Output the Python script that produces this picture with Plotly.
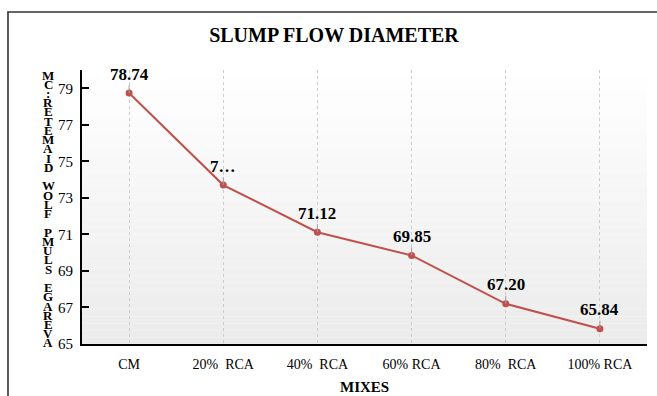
import plotly.graph_objects as go

# Slump flow results per mix
mixes = ["CM", "20%\u00a0 RCA", "40%\u00a0 RCA", "60% RCA", "80%\u00a0 RCA", "100% RCA"]
slump_flow = [78.74, 73.70, 71.12, 69.85, 67.20, 65.84]
value_labels = ["78.74", "7…", "71.12", "69.85", "67.20", "65.84"]
y_ticks = [65, 67, 69, 71, 73, 75, 77, 79]

chart_title = "SLUMP FLOW DIAMETER"
x_title = "MIXES"
y_title = "AVERAGE SLUMP FLOW DIAMETER:CM"

SERIF = "Liberation Serif, Times New Roman, serif"
LINE_RED = "#c0504d"

W, H = 657, 396
L, R, T, B = 82, 10, 70, 52
plot_w = W - L - R
plot_h = H - T - B


def px_to_paper_x(px):
    return (px - L) / plot_w


def px_to_paper_y(py):
    return (H - B - py) / plot_h


fig = go.Figure()

fig.add_trace(go.Scatter(
    x=mixes,
    y=slump_flow,
    mode="lines+markers",
    line=dict(color=LINE_RED, width=2),
    marker=dict(color=LINE_RED, size=7),
    hoverinfo="x+y",
    showlegend=False,
))

shapes = []
# soft vertical gradient inside the plot area
n_bands = 40
for i in range(n_bands):
    t = i / (n_bands - 1)
    g = round(255 - (255 - 235) * t)
    shapes.append(dict(
        type="rect", xref="paper", yref="paper",
        x0=0, x1=1,
        y0=1 - (i + 1) / n_bands, y1=1 - i / n_bands,
        fillcolor=f"rgb({g},{g},{g})", line=dict(width=0), layer="below",
    ))

# outer chart frame: left edge as a stroke, top edge as a thin filled bar
fx0 = px_to_paper_x(8)
shapes.append(dict(
    type="line", xref="paper", yref="paper",
    x0=fx0, x1=fx0, y0=px_to_paper_y(12), y1=px_to_paper_y(H),
    line=dict(color="#333333", width=1.6),
))
shapes.append(dict(
    type="rect", xref="paper", yref="paper",
    x0=px_to_paper_x(7.2), x1=px_to_paper_x(W),
    y0=px_to_paper_y(12.8), y1=px_to_paper_y(11.2),
    fillcolor="#333333", line=dict(width=0),
))

annotations = []
for m, v, lab in zip(mixes, slump_flow, value_labels):
    annotations.append(dict(
        x=m, y=v, xref="x", yref="y",
        text=f"<b>{lab}</b>",
        showarrow=True, arrowhead=0, arrowwidth=1, arrowcolor="#a0a0a0",
        ax=0, ay=-19, standoff=0,
        font=dict(family=SERIF, size=17, color="#000000"),
    ))

# stacked characters of the y-axis caption
stack = y_title[::-1]
step = 9.24
for i, ch in enumerate(stack):
    if ch == " ":
        continue
    annotations.append(dict(
        x=px_to_paper_x(48), y=px_to_paper_y(75 + i * step),
        xref="paper", yref="paper", showarrow=False,
        text=f"<b>{ch}</b>", xanchor="center", yanchor="middle",
        font=dict(family=SERIF, size=13, color="#000000"),
    ))

annotations.append(dict(
    x=0.5, y=px_to_paper_y(387), xref="paper", yref="paper",
    showarrow=False, text=f"<b>{x_title}</b>",
    xanchor="center", yanchor="middle",
    font=dict(family=SERIF, size=15, color="#000000"),
))

fig.update_layout(
    width=W, height=H,
    margin=dict(l=L, r=R, t=T, b=B, pad=0),
    paper_bgcolor="white",
    plot_bgcolor="rgba(0,0,0,0)",
    title=dict(
        text=f"<b>{chart_title}</b>",
        x=334 / W, xref="container", xanchor="center",
        y=1 - 35 / H, yref="container", yanchor="middle",
        font=dict(family=SERIF, size=20, color="#000000"),
    ),
    shapes=shapes,
    annotations=annotations,
    xaxis=dict(
        type="category",
        range=[-0.5, len(mixes) - 0.5],
        showgrid=True, gridcolor="#cdcdcd", griddash="dot", gridwidth=1,
        showline=True, linecolor="#000000", linewidth=2,
        ticks="", ticklabelstandoff=6,
        tickfont=dict(family=SERIF, size=14, color="#000000"),
        zeroline=False, fixedrange=True,
    ),
    yaxis=dict(
        range=[65, 80],
        tickvals=y_ticks,
        ticktext=[str(t) for t in y_ticks],
        showgrid=False,
        showline=True, linecolor="#000000", linewidth=2,
        ticks="inside", ticklen=7, tickwidth=2, tickcolor="#000000",
        ticklabelstandoff=4,
        tickfont=dict(family=SERIF, size=15, color="#000000"),
        zeroline=False, fixedrange=True,
    ),
)

fig.write_html("out.html", config={"displayModeBar": False})
